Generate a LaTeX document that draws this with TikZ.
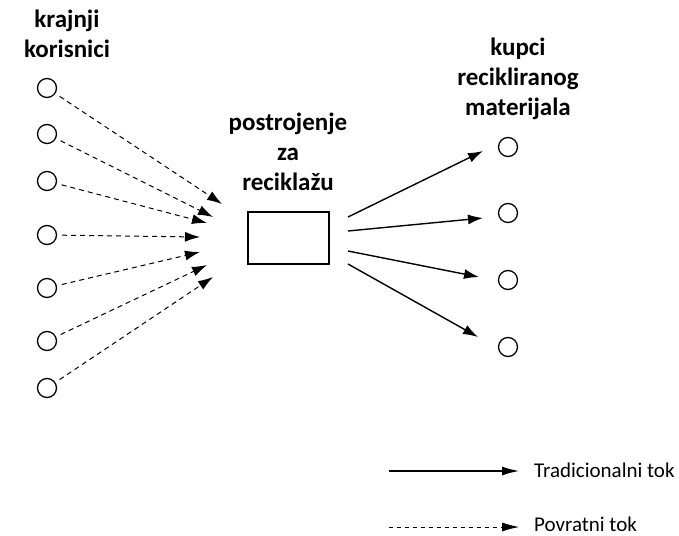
\documentclass[tikz,border=0pt]{standalone}
\usepackage{fontspec}
\setmainfont{Carlito}
\usetikzlibrary{arrows.meta, positioning}

\begin{document}
\begin{tikzpicture}[
    x=1pt, y=-1pt,
    every node/.style={inner sep=0pt},
    party/.style={circle, draw=black, line width=1.3pt, minimum size=19pt},
    plantbox/.style={rectangle, draw=black, line width=1.3pt, minimum width=81pt, minimum height=52pt},
    heading/.style={font=\fontsize{25}{30}\selectfont\bfseries, align=center, anchor=base},
    legendtext/.style={font=\fontsize{21}{25}\selectfont, anchor=base west},
    fwd/.style={line width=1.4pt, -{Latex[length=15pt, width=10pt]}},
    ret/.style={line width=1pt, dash pattern=on 5pt off 4pt, -{Latex[length=15pt, width=10pt]}, shorten <=5pt}
]
   \useasboundingbox (0,0) rectangle (679,535);

   % Labels (anchored on the last line)
   \node[heading] (users) at (67,58) {krajnji\\korisnici};
   \node[heading] (plantlbl) at (288,190) {postrojenje\\za\\reciklažu};
   \node[heading] (buyers) at (518,115) {kupci\\recikliranog\\materijala};

   % End users
   \foreach \i/\y in {1/88, 2/134, 3/181, 4/235, 5/288, 6/341, 7/388}
      \node[party] (u\i) at (47,\y) {};

   % Recycling plant
   \node[plantbox] (plant) at (288.5,238) {};

   % Buyers of recycled material
   \foreach \i/\y in {1/147, 2/213, 3/280, 4/347}
      \node[party] (b\i) at (508,\y) {};

   % Return flows
   \foreach \i/\ex/\ey in {1/222/204, 2/213/217, 3/207/223, 4/200/237, 5/200/252, 6/207/265, 7/213/277} {
      \coordinate (r\i) at (\ex,\ey);
      \draw[ret] (u\i) -- (r\i);
   }

   % Traditional flows
   \foreach \i/\sy/\ex/\ey in {1/217/483/151, 2/231/483/218, 3/251/479/277, 4/264/478/337} {
      \coordinate (s\i) at (348,\sy);
      \coordinate (t\i) at (\ex,\ey);
      \draw[fwd] (s\i) -- (t\i);
   }

   % Legend
   \coordinate (la) at (389,471);
   \coordinate (lb) at (519,471);
   \coordinate (lc) at (389,527);
   \coordinate (ld) at (519,527);
   \draw[line width=1.3pt, -{Latex[length=17pt, width=9pt]}] (la) -- (lb);
   \draw[line width=0.8pt, dash pattern=on 4pt off 4pt, -{Latex[length=17pt, width=9pt]}] (lc) -- (ld);
   \node[legendtext] (tradlbl) at (534,477) {Tradicionalni tok};
   \node[legendtext] (retlbl) at (534,531) {Povratni tok};
\end{tikzpicture}
\end{document}
